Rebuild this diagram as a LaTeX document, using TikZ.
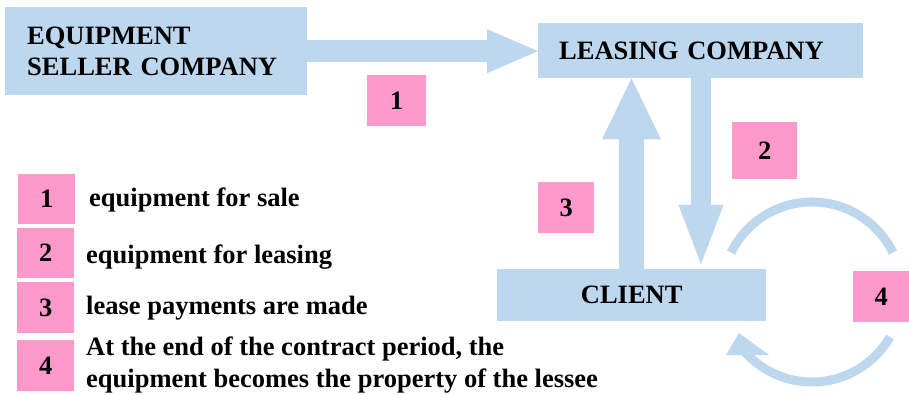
\documentclass[tikz,border=0pt]{standalone}
\usepackage{fontspec}
\setmainfont{Liberation Serif}
\usetikzlibrary{arrows.meta}
\definecolor{lblue}{HTML}{BDD7EE}
\definecolor{lpink}{HTML}{FF99CC}
\newcommand\dgfont{\fontsize{26.5}{31}\selectfont\bfseries}
\begin{document}
\begin{tikzpicture}[x=1pt,y=-1pt,
  box/.style={fill=lblue, inner sep=0pt, anchor=north west, font=\dgfont},
  num/.style={fill=lpink, inner sep=0pt, anchor=north west, font=\dgfont},
  legtext/.style={inner sep=0pt, anchor=base west, font=\dgfont},
  fatarrow/.style={draw=lblue, line width=#1},
  ring/.style={draw=lblue, line width=9pt}]
\useasboundingbox (0,0) rectangle (909,395);

% boxes
\node[box, minimum width=302pt, minimum height=88pt, text width=258pt, inner xsep=22pt, align=left] (seller) at (5,7) {EQUIPMENT\\SELLER COMPANY};
\node[box, minimum width=325pt, minimum height=55pt, text width=283pt, inner xsep=21pt, align=left] (leasing) at (538,23) {LEASING COMPANY};
\node[box, minimum width=269pt, minimum height=52pt] (client) at (497,269) {CLIENT};

% pink step numbers on the diagram
\node[num, minimum width=59pt, minimum height=51pt] (n1) at (367,75) {1};
\node[num, minimum width=65pt, minimum height=57pt] (n2) at (732,122) {2};
\node[num, minimum width=56pt, minimum height=51pt] (n3) at (538,182) {3};
\node[num, minimum width=56pt, minimum height=51pt] (n4) at (853,271) {4};

% legend
\node[num, minimum width=57pt, minimum height=50pt] (l1) at (18,174) {1};
\node[num, minimum width=57pt, minimum height=50pt] (l2) at (17,228) {2};
\node[num, minimum width=57pt, minimum height=51pt] (l3) at (17,282) {3};
\node[num, minimum width=57pt, minimum height=51pt] (l4) at (17,340) {4};
\node[legtext] (t1) at (89,207) {equipment for sale};
\node[legtext] (t2) at (86,263) {equipment for leasing};
\node[legtext] (t3) at (86,314) {lease payments are made};
\node[legtext] (t4a) at (86,355) {At the end of the contract period, the};
\node[legtext] (t4b) at (86,387) {equipment becomes the property of the lessee};

% arrows
\coordinate (x2) at (701,0);
\coordinate (x3) at (631.5,0);
\coordinate (tip2) at (701,264);
\draw[fatarrow=22pt, -{Triangle[width=44pt,length=51pt,line width=0pt]}] (seller.east) -- (seller.east -| leasing.west);
\draw[fatarrow=20pt, -{Triangle[width=45pt,length=59pt,line width=0pt]}] (leasing.south -| x2) -- (tip2);
\draw[fatarrow=25pt, -{Triangle[width=59pt,length=61pt,line width=0pt]}] (client.north -| x3) -- (leasing.south -| x3);

% circular arrows round the client
\coordinate (cc) at (812,292);
\draw[ring] ([shift={(154:90pt)}]cc) arc[start angle=154, end angle=26, radius=90pt];
\draw[ring] ([shift={(-30:90pt)}]cc) arc[start angle=-30, end angle=-138, radius=90pt];
\coordinate (h1) at (739,333);
\coordinate (h2) at (726,355);
\coordinate (h3) at (769,355);
\fill[lblue] (h1) -- (h2) -- (h3) -- cycle;
\end{tikzpicture}
\end{document}
